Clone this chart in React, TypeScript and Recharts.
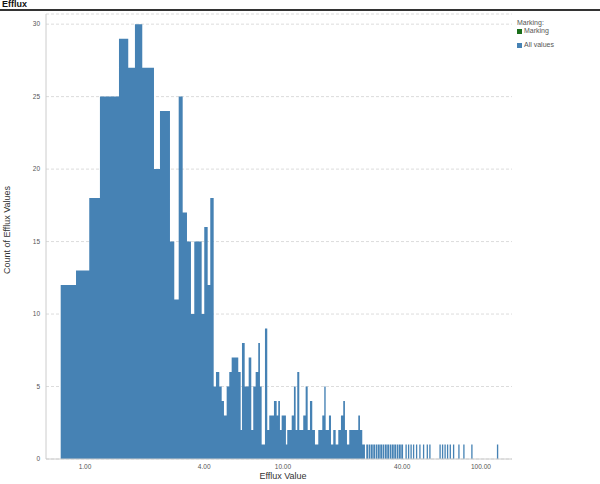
import { ComposedChart, Area, XAxis, YAxis, CartesianGrid } from 'recharts';

// contiguous histogram bins: left edges (+ final right edge) and counts
const mainEdges = [
  0.754, 0.901, 1.051, 1.19, 1.485, 1.654, 1.788, 1.947, 2.231, 2.392,
  2.687, 2.825, 2.974, 3.115, 3.275, 3.43, 3.565, 3.885, 4.004, 4.166,
  4.294, 4.467, 4.588, 4.768, 4.903, 5.035, 5.196, 5.356, 5.507, 5.946,
  6.115, 6.208, 6.407, 6.711, 6.918, 7.079, 7.279, 7.503, 7.652, 7.805,
  8.111, 8.331, 8.527, 9.005, 9.293, 9.468, 9.656, 9.849, 10.35, 10.51,
  11.07, 11.36, 11.59, 11.81, 12.09, 12.66, 13.02, 13.33, 13.69, 14.06,
  14.51, 15.08, 15.8, 16.17, 16.43, 17.07, 17.48, 17.95, 18.46, 19.03,
  19.63, 20.16, 20.56, 21.05, 21.62, 22.23, 23.29, 24.01, 24.49, 25.15,
  25.95,
];
const mainCounts = [
  12, 13, 18, 25, 29, 27, 30, 27, 20, 24,
  15, 11, 25, 17, 15, 10, 15, 10, 16, 12,
  18, 5, 6, 5, 4, 3, 5, 6, 7, 6,
  2, 8, 5, 7, 2, 5, 6, 8, 5, 1,
  9, 2, 3, 4, 3, 4, 2, 3, 1, 2,
  3, 5, 2, 6, 2, 3, 5, 2, 4, 2,
  1, 2, 3, 5, 2, 3, 1, 2, 1, 2,
  3, 4, 2, 1, 2, 2, 2, 3, 2, 1,
];

// narrow single values in the long tail
const tailStart = [
  26.35, 27.09, 27.82, 28.58, 29.39, 30.18, 31.0, 31.84, 32.74, 33.63,
  34.58, 35.52, 36.49, 37.53, 38.55, 39.59, 41.56, 42.79, 44.05, 45.35,
  46.96, 48.81, 50.94, 53.18, 54.81, 61.71, 63.53, 65.41, 67.34, 69.48,
  72.21, 76.83, 81.4, 89.33, 120.4,
];
const tailEnd = [
  26.91, 27.66, 28.41, 29.18, 30.01, 30.82, 31.65, 32.51, 33.43, 34.34,
  35.31, 36.27, 37.26, 38.32, 39.36, 40.43, 42.2, 43.45, 44.72, 46.04,
  47.68, 49.54, 51.71, 53.99, 55.65, 62.66, 64.51, 66.41, 68.36, 70.55,
  73.32, 77.99, 82.64, 90.7, 122.3,
];
const tailCounts = [
  1, 1, 1, 1, 1, 1, 1, 1, 1, 1,
  1, 1, 1, 1, 1, 1, 1, 1, 1, 1,
  1, 1, 1, 1, 1, 1, 1, 1, 1, 1,
  1, 1, 1, 1, 1,
];

const xTicks = [1, 4, 10, 40, 100];
const yTicks = [0, 5, 10, 15, 20, 25, 30];

interface StepPoint {
  value: number;
  count: number;
}

function buildSteps(): StepPoint[] {
  const pts: StepPoint[] = [];
  mainCounts.forEach((c, i) => pts.push({ value: mainEdges[i], count: c }));
  let prevEnd = mainEdges[mainEdges.length - 1];
  tailStart.forEach((s, i) => {
    if (s > prevEnd) pts.push({ value: prevEnd, count: 0 });
    pts.push({ value: s, count: tailCounts[i] });
    prevEnd = tailEnd[i];
  });
  pts.push({ value: prevEnd, count: 0 });
  return pts;
}

const font = 'Liberation Sans, Arial, sans-serif';

function App() {
  const data = buildSteps();
  return (
    <div style={{ position: 'absolute', left: 0, top: 0, width: 600, height: 484, background: '#fff', fontFamily: font }}>
      <div style={{ position: 'absolute', left: 0, top: 0 }}>
        <ComposedChart width={600} height={484} data={data} margin={{ top: 14, right: 88, bottom: 0, left: 14 }}>
          <CartesianGrid vertical={false} stroke="#dcdcdc" strokeDasharray="3 2" />
          <XAxis
            dataKey="value"
            type="number"
            scale="log"
            domain={[0.6355, 143.5]}
            allowDataOverflow
            ticks={xTicks}
            tickFormatter={(v: number) => v.toFixed(2)}
            height={25}
            tickSize={0}
            tickMargin={5}
            stroke="#cccccc"
            tick={{ fontSize: 6.5, fill: '#555', fontFamily: font }}
          />
          <YAxis
            type="number"
            domain={[0, 30.7]}
            ticks={yTicks}
            width={32}
            tickSize={0}
            tickMargin={6}
            stroke="#cccccc"
            tick={{ fontSize: 6.5, fill: '#555', fontFamily: font }}
          />
          <Area
            type="stepAfter"
            dataKey="count"
            stroke="none"
            fill="#4682b4"
            fillOpacity={1}
            dot={false}
            activeDot={false}
            isAnimationActive={false}
          />
        </ComposedChart>
      </div>
      <div style={{ position: 'absolute', left: 2, top: 0, fontSize: 9, fontWeight: 'bold', lineHeight: '9px', color: '#111' }}>Efflux</div>
      <div style={{ position: 'absolute', left: 0, top: 9, width: 600, borderTop: '2px solid #333' }} />
      <div style={{ position: 'absolute', left: 7, top: 230, fontSize: 9, color: '#333', whiteSpace: 'nowrap', transform: 'translate(-50%, -50%) rotate(-90deg)' }}>
        Count of Efflux Values
      </div>
      <div style={{ position: 'absolute', left: 283, top: 476, fontSize: 9, color: '#333', whiteSpace: 'nowrap', transform: 'translate(-50%, -50%)' }}>
        Efflux Value
      </div>
      <div style={{ position: 'absolute', left: 517, top: 19, fontSize: 7, color: '#555', lineHeight: '8px' }}>
        <div>Marking:</div>
        <div style={{ display: 'flex', alignItems: 'center' }}>
          <span style={{ display: 'inline-block', width: 5, height: 5, background: '#1a6e1a', marginRight: 2 }} />
          Marking
        </div>
        <div style={{ display: 'flex', alignItems: 'center', marginTop: 6 }}>
          <span style={{ display: 'inline-block', width: 5, height: 5, background: '#4682b4', marginRight: 2 }} />
          All values
        </div>
      </div>
    </div>
  );
}

export default App;
